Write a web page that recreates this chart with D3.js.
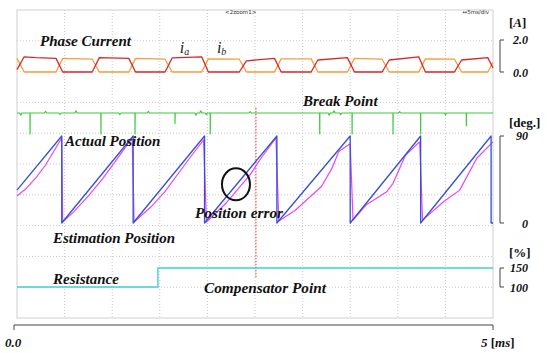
<!DOCTYPE html>
<html>
<head>
<meta charset="utf-8">
<script src="https://cdn.jsdelivr.net/npm/d3@7"></script>
<style>
  body { margin: 0; background: #fff; }
  svg { display: block; }
  .lbl { font-family: "Liberation Serif", "Times New Roman", serif; font-weight: bold; font-style: italic; fill: #111; }
  .unit { font-family: "Liberation Serif", "Times New Roman", serif; font-weight: bold; fill: #111; }
  .tiny { font-family: "DejaVu Sans", sans-serif; font-size: 5.5px; fill: #333; }
</style>
</head>
<body>
<svg width="547" height="353"></svg>
<script>
// time axis, ms
var timeDomain = [0, 5];
var xTickLabels = ['0.0', '5'];

// phase currents [ms, A]
var ia = [[0,0.15],[0.075,0.95],[0.2,0.9],[0.41,0.85],[0.48,0],[0.79,0],[0.865,0.9],[1.175,0.85],[1.245,0],[1.555,0],[1.63,0.88],[1.94,0.95],[2.01,0],
  [2.335,0],[2.41,0.7],[2.705,0.85],[2.775,0],[3.09,0],[3.16,0.75],[3.47,0.9],[3.545,0],[3.835,0],[3.91,0.75],[4.22,0.95],[4.29,0],
  [4.595,0],[4.67,0.75],[4.945,0.9],[5,0.25]];
var ib = [[0,0.85],[0.075,0],[0.41,0],[0.48,0.85],[0.79,0.8],[0.865,0],[1.175,0],[1.245,0.85],[1.555,0.8],[1.63,0],[1.94,0],[2.01,0.82],
  [2.335,0.8],[2.41,0],[2.705,0],[2.775,0.82],[3.09,0.82],[3.16,0],[3.47,0],[3.545,0.85],[3.835,0.8],[3.91,0],[4.22,0],[4.29,0.82],
  [4.595,0.8],[4.67,0],[4.945,0],[5,0.6]];
var currentTicks = ['2.0', '0.0'];

// break point pulses: time, depth
var breakTimes = [0.137, 0.882, 1.24, 1.66, 2.03, 3.18, 3.52, 3.95, 4.24, 4.72];
var breakDepth = [1, 1, 1, 0.5, 1, 1, 1, 1, 1, 0.6];
var breakNoise = [[0.04,0.1],[0.3,-0.08],[0.45,0.07],[0.62,-0.1],[1.08,0.08],[1.38,-0.08],[1.88,0.1],[1.93,-0.1],[1.99,0.08],
  [2.45,-0.07],[3.28,0.1],[3.33,-0.1],[3.4,0.08],[4.02,-0.07],[4.5,0.08]];

// rotor position [ms, deg]
var actualPos = [[0,34],[0.47,90],[0.47,0],[1.22,90],[1.22,0],[1.97,90],[1.97,0],[2.73,90],[2.73,0],[3.5,90],[3.5,0],
  [4.24,90],[4.24,0],[4.98,90],[4.98,0],[5,0]];
var estimatedPos = [[0,28],[0.1,36],[0.2,47],[0.3,60],[0.47,88],[0.48,1],
  [0.6,12],[0.75,28],[0.9,46],[1.05,66],[1.21,88],[1.23,1],
  [1.4,16],[1.55,32],[1.7,52],[1.82,68],[1.96,86],[1.99,1],
  [2.2,21],[2.45,50],[2.57,68],[2.72,88],[2.75,2],
  [2.92,13],[3.1,29],[3.2,38],[3.31,57],[3.38,74],[3.5,82],[3.53,3],
  [3.67,19],[3.88,32],[3.95,41],[4.08,70],[4.23,84],[4.26,3],
  [4.48,22],[4.65,34],[4.83,67],[5,84]];
var posTicks = ['90', '0'];

// resistance [ms, %]
var resistance = [[0,100],[1.48,100],[1.48,150],[5,150]];
var resTicks = ['150', '100'];

var compensatorTime = 2.51;
var errorMark = [2.3, 40];

var svg = d3.select('svg');
var box = {left: 17, right: 493, top: 10, bottom: 318};

var x = d3.scaleLinear().domain(timeDomain).range([box.left, box.right]);
var yCur = d3.scaleLinear().domain([0, 2]).range([72, 40]);
var yBrk = d3.scaleLinear().domain([0, 1]).range([113, 134]);
var yPos = d3.scaleLinear().domain([0, 90]).range([223, 136]);
var yRes = d3.scaleLinear().domain([100, 150]).range([287, 268]);
var yGrid = d3.scaleLinear().domain([0, 10]).range([box.top, box.bottom]);

// grid
var g = svg.append('g');
g.selectAll('.vg').data(d3.range(0.5, 5, 0.5)).enter().append('line')
  .attr('x1', function(d) { return x(d); }).attr('x2', function(d) { return x(d); })
  .attr('y1', box.top).attr('y2', box.bottom)
  .attr('stroke', '#c8c8c8').attr('stroke-dasharray', '1,2');
g.selectAll('.hg').data(d3.range(1, 10)).enter().append('line')
  .attr('x1', box.left).attr('x2', box.right)
  .attr('y1', function(d) { return yGrid(d); }).attr('y2', function(d) { return yGrid(d); })
  .attr('stroke', '#c8c8c8').attr('stroke-dasharray', '1,2');
g.append('rect').attr('x', box.left).attr('y', box.top)
  .attr('width', box.right - box.left).attr('height', box.bottom - box.top)
  .attr('fill', 'none').attr('stroke', '#cfcfcf');

svg.append('text').attr('class', 'tiny').attr('x', x(2.35)).attr('y', 14).attr('text-anchor', 'middle').text('<2zoom1>');
svg.append('text').attr('class', 'tiny').attr('x', box.right - 4).attr('y', 14).attr('text-anchor', 'end').text('\u21945ms/div');

function trace(data, ys, color, w) {
  var line = d3.line().x(function(d) { return x(d[0]); }).y(function(d) { return ys(d[1]); });
  svg.append('path').datum(data)
    .attr('fill', 'none').attr('stroke', color).attr('stroke-width', w || 1.3)
    .attr('stroke-linejoin', 'round').attr('d', line);
}

// phase currents
trace(ib, yCur, '#f0a040');
trace(ia, yCur, '#d82828');

// break point trace, noise blips are short
var brk = [[0, 0]];
breakNoise.forEach(function(d) {
  brk.push([d[0] - 0.012, 0], [d[0], d[1]], [d[0] + 0.012, 0]);
});
breakTimes.forEach(function(t, i) {
  brk.push([t - 0.001, 0], [t, breakDepth[i]], [t + 0.001, 0]);
});
brk.push([5, 0]);
brk.sort(function(a, b) { return a[0] - b[0]; });
trace(brk, yBrk, '#3ccc3c', 1.2);

// compensator point
svg.append('line').attr('x1', x(compensatorTime)).attr('x2', x(compensatorTime))
  .attr('y1', yBrk(-0.25)).attr('y2', yRes(122))
  .attr('stroke', '#e03030').attr('stroke-dasharray', '1.5,1.5');

// positions
trace(estimatedPos, yPos, '#ee44ee', 1.2);
trace(actualPos, yPos, '#3050d8', 1.3);

svg.append('ellipse').attr('cx', x(errorMark[0])).attr('cy', yPos(errorMark[1]))
  .attr('rx', 14).attr('ry', 16).attr('fill', 'none').attr('stroke', '#111').attr('stroke-width', 2);

// resistance
trace(resistance, yRes, '#40d0d0', 1.4);

// annotations
function label(txt, px, py, len) {
  var t = svg.append('text').attr('class', 'lbl').attr('x', px).attr('y', py).style('font-size', '15px').text(txt);
  if (len) t.attr('textLength', len).attr('lengthAdjust', 'spacingAndGlyphs');
}
label('Phase Current', 40, 46, 91);
label('Break Point', 303, 106);
label('Actual Position', 65, 146);
label('Position error', 195, 218, 88);
label('Estimation Position', 53, 243);
label('Resistance', 53, 284);
label('Compensator Point', 204, 293, 122);

function sub(main, s, px, py) {
  var t = svg.append('text').attr('x', px).attr('y', py)
    .style('font-family', 'Liberation Serif, serif').style('font-style', 'italic').style('fill', '#222');
  t.append('tspan').style('font-size', '16px').text(main);
  t.append('tspan').style('font-size', '10px').attr('dy', 2).text(s);
}
sub('i', 'a', x(1.71), 53);
sub('i', 'b', x(2.1), 53);

// right side scale brackets
function bracket(y0, y1, labels, unit, unitY, unitItalic) {
  var b = svg.append('g');
  b.append('path').attr('fill', 'none').attr('stroke', '#444').attr('stroke-width', 1)
    .attr('d', 'M504,' + y0 + 'H500V' + y1 + 'H504');
  b.append('text').attr('class', 'lbl').attr('x', 528).attr('y', y0 + 4).attr('text-anchor', 'end')
    .style('font-size', '12px').text(labels[0]);
  b.append('text').attr('class', 'lbl').attr('x', 528).attr('y', y1 + 5).attr('text-anchor', 'end')
    .style('font-size', '12px').text(labels[1]);
  var u = b.append('text').attr('class', 'unit').attr('x', 509).attr('y', unitY).style('font-size', '13px');
  u.append('tspan').text('[');
  u.append('tspan').style('font-style', unitItalic ? 'italic' : 'normal').text(unit);
  u.append('tspan').text(']');
}
bracket(yCur(2), yCur(0), currentTicks, 'A', 27, true);
bracket(yPos(90), yPos(0), posTicks, 'deg.', 127, false);
bracket(yRes(150), yRes(100), resTicks, '%', 257, false);

// time axis bracket
svg.append('path').attr('fill', 'none').attr('stroke', '#444')
  .attr('d', 'M' + (x(0) - 3) + ',330V325H' + x(5) + 'V330');
svg.append('text').attr('class', 'lbl').attr('x', 5).attr('y', 347).style('font-size', '13px').text(xTickLabels[0]);
var xl = svg.append('text').attr('class', 'unit').attr('x', x(5) - 12).attr('y', 347).style('font-size', '13px');
xl.append('tspan').style('font-style', 'italic').text(xTickLabels[1] + ' ');
xl.append('tspan').text('[');
xl.append('tspan').style('font-style', 'italic').text('ms');
xl.append('tspan').text(']');
</script>
</body>
</html>
